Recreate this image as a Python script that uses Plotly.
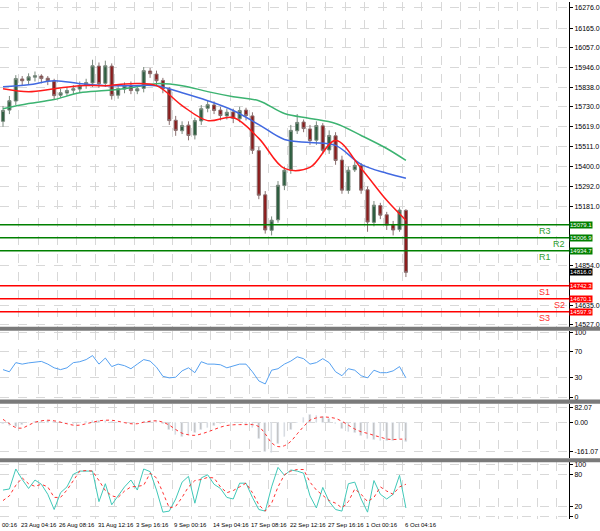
import plotly.graph_objects as go
from plotly.subplots import make_subplots

# price bars (index = bar number)
opens = [15650, 15712, 15762, 15884, 15876, 15894, 15900, 15888, 15872, 15794, 15806, 15822, 15828, 15849, 15862, 15955,
         15860, 15955, 15794, 15828, 15849, 15818, 15832, 15928, 15911, 15876, 15828, 15656, 15598, 15629, 15574, 15652,
         15722, 15740, 15712, 15680, 15702, 15664, 15712, 15680, 15488, 15244, 15048, 15106, 15295, 15382, 15598, 15646,
         15608, 15546, 15625, 15492, 15570, 15436, 15268, 15382, 15405, 15272, 15092, 15185, 15134, 15079, 15052, 15158]
highs = [15735, 15790, 15905, 15900, 15915, 15925, 15910, 15900, 15885, 15830, 15840, 15850, 15870, 15885, 15990, 15975,
         15985, 15970, 15850, 15865, 15870, 15850, 15950, 15945, 15930, 15890, 15840, 15680, 15650, 15650, 15670, 15740,
         15765, 15760, 15730, 15720, 15720, 15730, 15725, 15700, 15510, 15265, 15125, 15320, 15400, 15630, 15690, 15660,
         15630, 15650, 15640, 15600, 15590, 15460, 15400, 15430, 15420, 15290, 15210, 15200, 15150, 15100, 15175, 15165]
lows = [15620, 15690, 15740, 15850, 15855, 15870, 15860, 15850, 15770, 15780, 15790, 15800, 15810, 15830, 15840, 15835,
        15840, 15770, 15775, 15805, 15800, 15800, 15810, 15890, 15850, 15805, 15630, 15570, 15580, 15545, 15550, 15630,
        15700, 15690, 15655, 15660, 15640, 15645, 15655, 15470, 15220, 15030, 15020, 15090, 15270, 15360, 15580, 15590,
        15520, 15520, 15470, 15470, 15410, 15250, 15250, 15370, 15250, 15040, 15070, 15110, 15050, 15020, 15040, 14790]
closes = [15710, 15764, 15886, 15874, 15896, 15902, 15886, 15874, 15792, 15808, 15820, 15830, 15847, 15864, 15957, 15858,
          15957, 15792, 15830, 15847, 15820, 15830, 15930, 15913, 15874, 15830, 15654, 15600, 15627, 15572, 15654, 15720,
          15742, 15710, 15682, 15700, 15666, 15710, 15682, 15490, 15242, 15050, 15104, 15297, 15380, 15600, 15644, 15610,
          15544, 15627, 15490, 15572, 15434, 15270, 15380, 15407, 15270, 15094, 15187, 15132, 15077, 15050, 15160, 14816]
bars = list(range(len(closes)))

# moving averages, sampled every few bars
ma_x = [0, 4, 8, 12, 16, 20, 24, 28, 32, 36, 40, 44, 48, 52, 56, 60, 63]
ma_fast = [15830, 15814, 15830, 15847, 15847, 15858, 15847, 15737, 15654, 15671, 15556, 15390, 15396, 15544, 15390,
           15214, 15104]
ma_mid = [15841, 15852, 15874, 15858, 15847, 15847, 15847, 15808, 15764, 15710, 15632, 15550, 15533, 15517, 15412,
          15363, 15336]
ma_slow = [15720, 15748, 15770, 15808, 15820, 15836, 15858, 15847, 15814, 15786, 15764, 15693, 15666, 15638, 15572,
           15500, 15434]

level_names = ['R3', 'R2', 'R1', 'S1', 'S2', 'S3']
level_values = [15079.1, 15006.9, 14934.7, 14742.3, 14670.1, 14597.9]
last_price = 14816.0

rsi = [42.7, 39.4, 53.5, 51.2, 53.1, 54.5, 55.4, 51.2, 45.5, 42.7, 45.5, 53.5, 54.9, 58.2, 64.4, 51.2, 60.6, 47.4, 51.2,
       48.8, 44.1, 51.2, 58.2, 55.9, 46.5, 32.4, 30, 31, 40.8, 45.5, 38, 54.9, 51.2, 51.2, 50.2, 45.5, 48.8, 51.2, 51.2,
       39.4, 25.3, 20.6, 41.8, 44.1, 51.2, 55.9, 62.5, 59.6, 51.2, 53.5, 59.6, 53.5, 39.4, 33.3, 44.1, 41.8, 33.3, 30,
       41.8, 38, 38, 40.8, 47.4, 30]

macd_hist = [-10, -20, -25, -15, -5, 3, 8, 8, 5, 2, -5, -8, 0, 5, 10, 8, 10, 5, 0, -3, -5, -2, 5, 10, 8, -10, -40, -70,
             -80, -70, -55, -40, -30, -20, -10, -5, 0, -5, -8, -30, -90, -160, -165, -120, -80, -40, -5, 25, 40, 35, 30,
             20, -10, -35, -50, -60, -75, -90, -95, -100, -100, -100, -90, -105]
macd_signal = [16, -8, -29, -32, -16, 0, 8, 11, 8, 0, -8, -16, -16, -8, 0, 8, 11, 11, 5, -2, -8, -8, 0, 5, 8, 0, -16, -40,
               -60, -69, -72, -64, -53, -40, -27, -18, -14, -13, -13, -13, -24, -64, -113, -134, -129, -105, -64, -24,
               11, 24, 29, 27, 21, 5, -16, -37, -52, -61, -72, -82, -92, -95, -93, -93]

stoch_main = [51, 53, 91, 71, 54, 70, 62, 43, 14, 46, 57, 81, 87, 87, 87, 29, 63, 23, 40, 57, 70, 51, 91, 86, 51, 9, 11,
              34, 66, 77, 26, 74, 80, 62, 54, 37, 34, 64, 64, 37, 14, 11, 57, 94, 79, 89, 87, 83, 40, 17, 56, 29, 14, 11,
              63, 66, 34, 9, 69, 43, 34, 43, 79, 17]
stoch_signal = [31, 40, 60, 74, 63, 58, 62, 57, 37, 37, 51, 69, 87, 88, 87, 69, 50, 40, 37, 49, 57, 58, 60, 83, 74, 46,
                17, 20, 37, 57, 69, 71, 75, 74, 57, 46, 50, 57, 64, 46, 23, 11, 26, 57, 80, 87, 90, 90, 66, 51, 41, 31,
                26, 17, 29, 53, 43, 29, 37, 57, 49, 43, 57, 62]

price_ticks = [16276.0, 16165.0, 16057.0, 15946.0, 15838.0, 15730.0, 15619.0, 15511.0, 15400.0, 15292.0, 15181.0,
               14854.0, 14635.0, 14527.0]
date_labels = ['00:16', '23 Aug 04:16', '26 Aug 08:16', '31 Aug 12:16', '3 Sep 16:16', '9 Sep 00:16', '14 Sep 04:16',
               '17 Sep 08:16', '22 Sep 12:16', '27 Sep 16:16', '1 Oct 00:16', '6 Oct 04:16']
date_pos = [-0.47, 2.5, 8.5, 14.5, 20.5, 26.5, 32.5, 38.5, 44.5, 50.5, 56.5, 62.5]

FONT = dict(family='Liberation Sans, Arial', size=7, color='#000000')
GRID = '#d8d8d8'

fig = make_subplots(rows=4, cols=1, shared_xaxes=True, vertical_spacing=0.01)

fig.add_trace(go.Candlestick(
    x=bars, open=opens, high=highs, low=lows, close=closes,
    increasing=dict(line=dict(color='#7a8a7e', width=1), fillcolor='#2e5e40'),
    decreasing=dict(line=dict(color='#8a7070', width=1), fillcolor='#8c1c1c'),
    whiskerwidth=0, showlegend=False), row=1, col=1)
fig.add_trace(go.Scatter(x=ma_x, y=ma_slow, mode='lines', line=dict(color='#3cb371', width=1.5, shape='spline'),
                         showlegend=False), row=1, col=1)
fig.add_trace(go.Scatter(x=ma_x, y=ma_mid, mode='lines', line=dict(color='#4169e1', width=1.5, shape='spline'),
                         showlegend=False), row=1, col=1)
fig.add_trace(go.Scatter(x=ma_x, y=ma_fast, mode='lines', line=dict(color='#ff1a1a', width=1.5, shape='spline'),
                         showlegend=False), row=1, col=1)

fig.add_trace(go.Scatter(x=bars, y=rsi, mode='lines', line=dict(color='#55a0f0', width=1),
                         showlegend=False), row=2, col=1)

fig.add_trace(go.Bar(x=bars, y=macd_hist, marker_color='#c0c0c0', width=0.25, showlegend=False), row=3, col=1)
fig.add_trace(go.Scatter(x=bars, y=macd_signal, mode='lines', line=dict(color='#ff3030', width=1, dash='dot',
                                                                         shape='spline'),
                         showlegend=False), row=3, col=1)

fig.add_trace(go.Scatter(x=bars, y=stoch_main, mode='lines', line=dict(color='#40c8b8', width=1),
                         showlegend=False), row=4, col=1)
fig.add_trace(go.Scatter(x=bars, y=stoch_signal, mode='lines', line=dict(color='#ff3030', width=1, dash='dot'),
                         showlegend=False), row=4, col=1)

# pivot levels, labels sit just under each line
for name, value in zip(level_names, level_values):
    color = '#008000' if name.startswith('R') else '#ff0000'
    fig.add_shape(type='line', xref='paper', x0=0, x1=1, yref='y', y0=value, y1=value,
                  line=dict(color=color, width=1.5))
    right = name in ('R2', 'S2')
    fig.add_annotation(x=0.997 if right else 0.957, xref='paper', y=value, yref='y', text=name, showarrow=False,
                       yanchor='top', xanchor='right' if right else 'center', yshift=1,
                       font=dict(family='Liberation Sans, Arial', size=9,
                                 color='#2e9e2e' if name.startswith('R') else '#ff3030'))
    fig.add_annotation(x=1, xref='paper', y=value, yref='y', text='%.1f' % value, showarrow=False, xanchor='left',
                       bgcolor=color, font=dict(FONT, color='white', size=6), borderpad=0)
fig.add_annotation(x=1, xref='paper', y=last_price, yref='y', text='%.1f' % last_price, showarrow=False,
                   xanchor='left', bgcolor='#000000', font=dict(FONT, color='white', size=6), borderpad=0)

for pos, label in zip(date_pos, date_labels):
    fig.add_annotation(x=pos, xref='x4', y=0, yref='paper', text=label, showarrow=False, xanchor='left',
                       yanchor='top', yshift=-1, font=dict(FONT, size=6))

# panel separators
for y0, y1 in [(0.364, 0.372), (0.223, 0.231), (0.110, 0.1175)]:
    fig.add_shape(type='rect', xref='paper', x0=0, x1=1.06, yref='paper', y0=y0, y1=y1,
                  fillcolor='#7a7a7a', line_width=0)

axis_common = dict(side='right', showgrid=True, gridcolor=GRID, griddash='dash', tickfont=FONT, ticks='outside',
                   ticklen=3, tickcolor='#000000', showline=True, linecolor='#000000', zeroline=False)
fig.update_layout(
    width=600, height=531, margin=dict(l=0, r=30, t=0, b=12),
    plot_bgcolor='white', paper_bgcolor='white', bargap=0,
    yaxis=dict(axis_common, domain=[0.372, 1], range=[14516, 16309], tickvals=price_ticks, tickformat='.1f'),
    yaxis2=dict(axis_common, domain=[0.231, 0.364], range=[-3.5, 102.6], tickvals=[100, 70, 30, 0]),
    yaxis3=dict(axis_common, domain=[0.1175, 0.223], range=[-198, 102], tickvals=[82.07, 0, -161.07],
                ticktext=['82.07', '0.00', '-161.07']),
    yaxis4=dict(axis_common, domain=[0.0, 0.110], range=[-4, 104], tickvals=[100, 80, 20, 0]),
)
for ax in ['xaxis', 'xaxis2', 'xaxis3', 'xaxis4']:
    fig.layout[ax].update(range=[-0.47, 88.5], showgrid=True, gridcolor=GRID, griddash='dash', tick0=2.5, dtick=3,
                          showticklabels=False, rangeslider=dict(visible=False), zeroline=False)

fig.write_html("out.html", config={'displayModeBar': False}, post_script="document.body.style.margin='0';")
